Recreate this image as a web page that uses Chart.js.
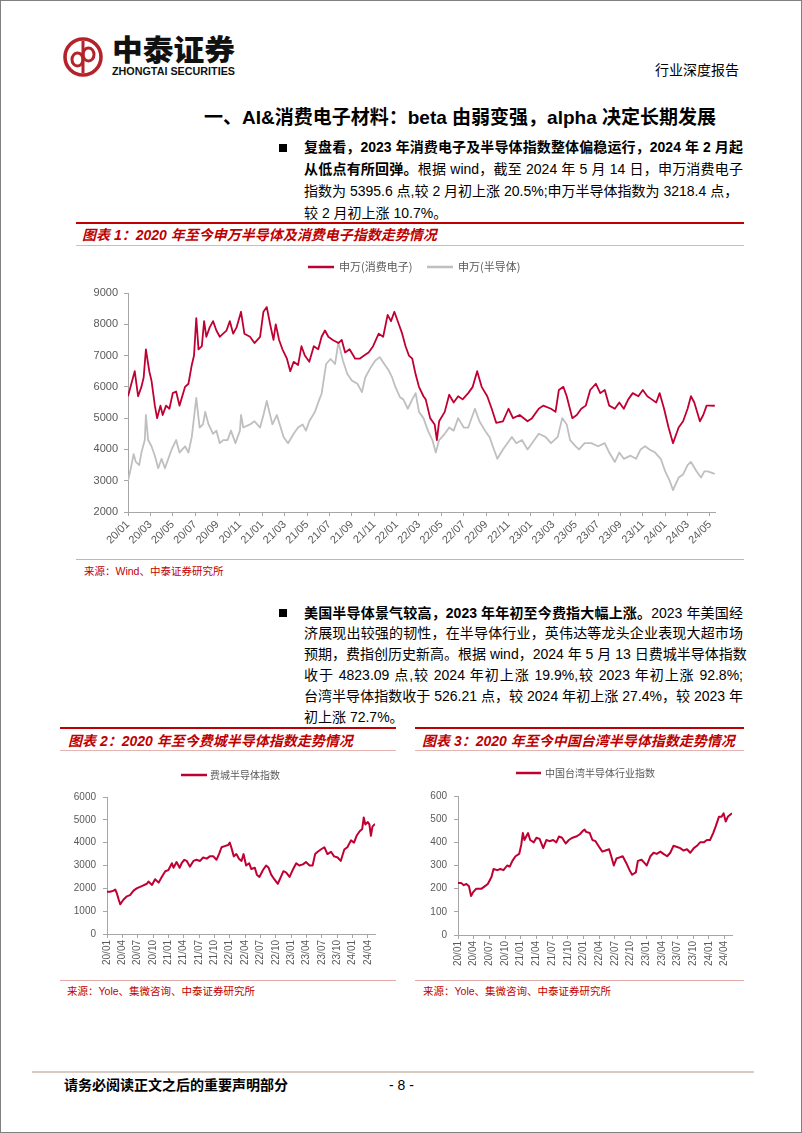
<!DOCTYPE html>
<html><head><meta charset="utf-8">
<script src="https://cdn.jsdelivr.net/npm/chart.js@4.4.1/dist/chart.umd.min.js"></script>
<style>
html,body{margin:0;padding:0;background:#fff;}
#page{position:relative;width:802px;height:1133px;overflow:hidden;font-family:"Liberation Sans","Noto Sans CJK SC",sans-serif;color:#000;}
#frame{position:absolute;left:0;top:0;width:802px;height:1133px;box-sizing:border-box;border:1px solid #808080;pointer-events:none;}
.abs{position:absolute;white-space:nowrap;}
.ln{position:absolute;left:304px;width:439px;font-size:14px;line-height:21px;height:21px;text-align:justify;text-align-last:justify;white-space:nowrap;}
.ln.last{text-align:left;text-align-last:left;}
.bul{position:absolute;left:279px;width:8px;height:8px;background:#000;}
.rule{position:absolute;}
.cap{position:absolute;white-space:nowrap;font-size:14px;line-height:20px;font-weight:bold;font-style:italic;color:#C00000;}
.src{position:absolute;white-space:nowrap;font-size:10.5px;line-height:14px;color:#C00000;}
canvas{position:absolute;}
</style></head>
<body><div id="page">
<svg class="abs" style="left:60px;top:34px" width="190" height="48" viewBox="0 0 190 48">
  <circle cx="23" cy="23" r="18" fill="none" stroke="#B5232A" stroke-width="3.6"/>
  <line x1="23" y1="7" x2="23" y2="39" stroke="#B5232A" stroke-width="3"/>
  <ellipse cx="17.5" cy="25.5" rx="5.5" ry="6.5" fill="none" stroke="#B5232A" stroke-width="3"/>
  <ellipse cx="28.5" cy="20.5" rx="5.5" ry="6.5" fill="none" stroke="#B5232A" stroke-width="3"/>
  <text x="52" y="27" font-family="Noto Sans CJK SC" font-weight="900" font-size="29" fill="#111" textLength="123" lengthAdjust="spacingAndGlyphs">中泰证券</text>
  <text x="52" y="41" font-family="Liberation Sans" font-weight="bold" font-size="10" fill="#111" textLength="123" lengthAdjust="spacingAndGlyphs">ZHONGTAI SECURITIES</text>
</svg>
<div class="abs" style="left:655px;top:60px;font-size:14px;line-height:20px;">行业深度报告</div>
<div class="abs" style="left:204px;top:104px;font-size:19px;line-height:27px;font-weight:bold;">一、AI&amp;消费电子材料：beta 由弱变强，alpha 决定长期发展</div>

<div class="bul" style="top:144px"></div>
<div class="ln" style="top:137px;font-weight:bold;">复盘看，2023 年消费电子及半导体指数整体偏稳运行，2024 年 2 月起</div>
<div class="ln" style="top:159px;"><b>从低点有所回弹。</b>根据 wind，截至 2024 年 5 月 14 日，申万消费电子</div>
<div class="ln" style="top:181px;width:431px;">指数为 5395.6 点,较 2 月初上涨 20.5%;申万半导体指数为 3218.4 点，</div>
<div class="ln last" style="top:203px;">较 2 月初上涨 10.7%。</div>

<div class="rule" style="left:76px;top:222px;width:668px;height:2px;background:#C00000"></div>
<div class="cap" style="left:82px;top:225px;">图表 1：2020 年至今申万半导体及消费电子指数走势情况</div>
<div class="rule" style="left:76px;top:245px;width:668px;height:1px;background:#E6B3B3"></div>
<canvas id="c1" width="690" height="310" style="left:60px;top:250px"></canvas>
<div class="rule" style="left:76px;top:559px;width:668px;height:1px;background:#E3A9A9"></div>
<div class="src" style="left:84px;top:564px;">来源：Wind、中泰证券研究所</div>

<div class="bul" style="top:609px"></div>
<div class="ln" style="top:602.5px;"><b>美国半导体景气较高，2023 年年初至今费指大幅上涨。</b>2023 年美国经</div>
<div class="ln" style="top:623.3px;">济展现出较强的韧性，在半导体行业，英伟达等龙头企业表现大超市场</div>
<div class="ln" style="top:644.1px;">预期，费指创历史新高。根据 wind，2024 年 5 月 13 日费城半导体指数</div>
<div class="ln" style="top:664.9px;">收于 4823.09 点,较 2024 年初上涨 19.9%,较 2023 年初上涨 92.8%;</div>
<div class="ln" style="top:685.7px;">台湾半导体指数收于 526.21 点，较 2024 年初上涨 27.4%，较 2023 年</div>
<div class="ln last" style="top:706.5px;">初上涨 72.7%。</div>

<div class="rule" style="left:60px;top:727px;width:336px;height:2px;background:#C00000"></div>
<div class="cap" style="left:68px;top:731px;">图表 2：2020 年至今费城半导体指数走势情况</div>
<div class="rule" style="left:60px;top:750px;width:336px;height:1px;background:#E6B3B3"></div>
<div class="rule" style="left:415px;top:727px;width:329px;height:2px;background:#C00000"></div>
<div class="cap" style="left:422px;top:731px;">图表 3：2020 年至今中国台湾半导体指数走势情况</div>
<div class="rule" style="left:415px;top:750px;width:329px;height:1px;background:#E6B3B3"></div>
<canvas id="c2" width="340" height="215" style="left:60px;top:755px"></canvas>
<canvas id="c3" width="340" height="215" style="left:410px;top:755px"></canvas>
<div class="rule" style="left:60px;top:980px;width:336px;height:1px;background:#E3A9A9"></div>
<div class="src" style="left:67px;top:984px;">来源：Yole、集微咨询、中泰证券研究所</div>
<div class="rule" style="left:415px;top:980px;width:329px;height:1px;background:#E3A9A9"></div>
<div class="src" style="left:423px;top:984px;">来源：Yole、集微咨询、中泰证券研究所</div>

<div class="rule" style="left:32px;top:1071px;width:722px;height:2px;background:#D8CCC2"></div>
<div class="abs" style="left:64px;top:1075px;font-size:14px;line-height:20px;font-weight:bold;">请务必阅读正文之后的重要声明部分</div>
<div class="abs" style="left:389px;top:1075px;font-size:14px;line-height:20px;">- 8 -</div>
<div id="frame"></div>
</div>
<script>
// ---------- DATA ----------
// x positions are months since 2020/01 (0 = Jan 2020)
const c1TickLabels = ['20/01','20/03','20/05','20/07','20/09','20/11','21/01','21/03','21/05','21/07','21/09','21/11','22/01','22/03','22/05','22/07','22/09','22/11','23/01','23/03','23/05','23/07','23/09','23/11','24/01','24/03','24/05'];
const c23TickLabels = ['20/01','20/04','20/07','20/10','21/01','21/04','21/07','21/10','22/01','22/04','22/07','22/10','23/01','23/04','23/07','23/10','24/01','24/04'];

const consumerName = '申万(消费电子)';
const consumerMonth = [0,0.3,0.6,0.9,1.2,1.4,1.6,1.9,2.1,2.4,2.6,2.9,3.1,3.4,3.7,4.0,4.3,4.6,5.1,5.4,5.7,5.9,6.1,6.3,6.6,6.8,7.0,7.3,7.6,7.9,8.2,8.5,8.8,9.1,9.4,9.7,10.1,10.4,10.9,11.3,11.8,12.1,12.4,12.7,13.0,13.2,13.5,13.8,14.2,14.5,14.8,15.2,15.5,15.8,16.2,16.6,17.0,17.3,17.6,17.9,18.3,18.8,19.1,19.4,19.8,20.3,20.7,21.1,21.5,21.9,22.4,22.8,23.2,23.5,23.8,24.2,24.5,24.8,25.1,25.4,25.7,26.0,26.4,26.6,27.0,27.4,27.6,27.8,28.3,28.7,29.1,29.5,29.9,30.4,30.8,31.2,31.6,32.1,32.5,32.9,33.5,34.0,34.4,35.0,35.7,36.1,36.7,37.1,37.8,38.2,38.5,38.9,39.2,39.7,40.1,40.5,40.9,41.3,41.8,42.2,42.6,43.0,43.5,43.9,44.3,44.7,45.1,45.6,46.0,46.4,46.8,47.2,47.5,47.9,48.3,48.7,49.2,49.6,50.0,50.3,50.6,51.1,51.4,51.7,52.0,52.43];
const consumerValue = [5700,6100,6500,5700,6000,6300,7200,6500,6200,5400,5000,5400,5100,5400,5300,5800,5850,5400,6000,6100,6700,7000,8200,7200,7300,8100,7600,7900,8100,7800,7600,7700,7800,8100,7700,7900,8400,7700,7600,7400,7600,8400,8550,8000,7500,8000,7500,7200,6900,6500,6800,6700,7300,7000,6800,7300,7200,7600,7800,7600,7500,7400,7500,7100,7200,6900,6900,7000,7100,7300,7700,7600,8300,8100,8400,8000,7700,7300,7000,6900,6400,6000,5700,5600,5000,4800,4300,4900,5200,5750,5500,5700,5600,5800,6000,6500,6000,5700,5300,4850,4900,5300,5000,5100,4900,5000,5300,5400,5300,5200,5900,6000,5700,5000,5100,5300,5400,5900,6100,5800,5900,5400,5300,5500,5300,5600,5800,5700,5900,5700,5600,5500,5800,5300,4700,4200,4700,4900,5300,5700,5500,4900,5100,5400,5400,5396];

const semiName = '申万(半导体)';
const semiMonth = [0,0.2,0.5,0.7,1.0,1.2,1.5,1.6,1.8,2.1,2.4,2.7,3.0,3.3,3.6,3.9,4.3,4.6,5.1,5.4,5.7,6.1,6.4,6.7,6.9,7.2,7.6,7.9,8.2,8.5,8.9,9.2,9.6,10.0,10.1,10.3,10.9,11.3,11.8,12.1,12.4,12.9,13.3,13.9,14.3,14.8,15.2,15.6,15.9,16.2,16.7,17.1,17.3,17.7,18.1,18.5,18.8,19.2,19.6,20.0,20.5,20.9,21.2,21.7,22.1,22.5,22.9,23.3,23.6,23.9,24.3,24.6,25.0,25.4,25.7,26.0,26.4,26.8,27.2,27.5,27.8,28.3,28.7,29.1,29.5,30.0,30.4,31.0,31.4,31.9,32.3,32.7,33.0,33.5,33.9,34.3,34.7,35.2,35.7,36.1,36.7,37.3,37.8,38.4,38.8,39.2,39.5,40.0,40.3,40.8,41.4,42.0,42.6,43.0,43.5,43.9,44.3,44.9,45.4,45.8,46.2,46.6,47.1,47.6,48.0,48.4,48.7,49.2,49.6,50.0,50.3,50.8,51.2,51.5,51.8,52.43];
const semiValue = [3000,3300,3850,3600,3500,3900,4300,5100,4300,4100,3800,3400,3700,3400,3700,4000,4300,3900,4100,3900,4400,5650,4700,4800,5200,4800,4500,4600,4200,4300,4300,4600,4200,4600,5100,4700,4800,4900,4700,5100,5550,4800,5100,4400,4200,4500,4700,4800,4600,4900,5200,5600,5780,6730,6890,6730,7430,6840,6410,6200,6100,5830,6300,6630,6840,6950,6730,6520,6300,5990,5670,5600,5300,5600,5800,5200,5000,4600,4300,3900,4300,4500,4700,4600,5000,4700,4700,5300,4900,4600,4400,4000,3700,4000,4200,4400,4200,4300,4000,4200,4500,4400,4200,4400,5000,4800,4300,4100,4000,4200,4200,4100,4200,3900,3600,3900,3700,3800,3700,4000,4100,4000,3900,3700,3300,3000,2700,3100,3200,3500,3600,3300,3100,3300,3300,3218];

const soxName = '费城半导体指数';
const soxMonth = [0,0.6,1.3,1.6,1.9,2.3,2.6,3.2,3.9,4.5,5.2,5.8,6.8,7.8,8.1,8.8,9.4,10.1,10.7,11.4,12.0,12.7,13.0,13.6,14.2,14.6,15.1,15.6,16.2,16.9,17.5,18.2,18.8,19.5,20.1,20.8,21.4,21.9,22.4,23.0,23.7,24.0,24.3,24.8,25.3,25.8,26.3,26.7,27.2,27.8,28.2,28.9,29.3,29.8,30.5,31.1,31.6,32.1,32.7,33.4,34.0,34.5,35.0,35.7,36.3,37.0,37.6,38.3,38.9,39.6,40.2,40.7,41.2,41.8,42.5,43.1,43.8,44.4,45.1,45.7,46.4,47.0,47.7,48.3,48.8,49.4,49.9,50.2,50.5,51.0,51.3,51.6,51.9,52.4];
const soxValue = [1850,1850,1900,1950,1800,1500,1300,1500,1650,1700,1900,2000,2100,2200,2300,2150,2400,2250,2500,2750,2800,3100,2900,3150,2900,3100,3250,3200,2950,3200,3250,3200,3350,3300,3400,3400,3250,3500,3800,3850,3900,4000,3800,3400,3500,3300,3200,3500,3000,3100,2850,2900,2600,2500,2800,3000,2900,2600,2400,2200,2500,2750,2700,2500,2800,3100,3000,3050,3150,3000,3000,3500,3600,3700,3800,3500,3600,3400,3350,3200,3700,3800,4100,4000,4300,4500,4600,5100,4800,4900,4800,4300,4700,4823];

const twName = '中国台湾半导体行业指数';
const twMonth = [0,0.6,1.1,1.6,2.1,2.5,2.9,3.5,4.5,5.1,5.7,6.4,6.8,7.5,8.1,8.7,9.4,9.9,10.4,11.0,11.7,12.1,12.4,12.7,13.4,13.8,14.5,15.0,15.6,16.3,16.9,17.5,18.2,18.8,19.3,19.9,20.6,21.2,21.9,22.6,23.3,23.9,24.2,24.5,25.2,25.7,26.3,27.0,27.6,28.2,28.9,29.3,29.8,30.3,30.9,31.5,32.2,32.8,33.3,34.0,34.4,35.1,35.7,36.1,36.8,37.4,38.0,38.7,39.3,40.0,40.6,41.2,41.9,42.5,43.1,43.8,44.4,45.1,45.7,46.3,47.0,47.6,48.2,48.8,49.3,49.9,50.4,50.8,51.2,51.6,52.4];
const twValue = [225,225,215,220,210,168,185,200,200,210,220,250,285,280,285,280,300,295,320,340,350,390,440,410,440,410,400,420,415,375,410,405,410,400,425,420,395,410,420,425,435,450,455,445,440,410,405,380,360,365,370,340,300,330,335,340,310,280,260,270,320,325,310,300,340,355,350,360,350,340,355,385,380,375,365,370,355,375,385,400,400,410,410,440,470,510,510,525,490,510,526];

// ---------- HELPERS ----------
const RED = '#C00033', GRAY = '#BFBFBF', AXIS = '#A6A6A6', TXT = '#595959';
const monthOf = l => (parseInt(l.slice(0,2)) - 20) * 12 + (parseInt(l.slice(3,5)) - 1);
const pts = (xs, ys) => xs.map((x, i) => ({x: x, y: ys[i]}));

const manualLegend = {
  id: 'manualLegend',
  afterDraw(chart, args, o) {
    const ctx = chart.ctx;
    ctx.save();
    chart.data.datasets.forEach((ds, i) => {
      const x = o.xs[i];
      ctx.strokeStyle = ds.borderColor; ctx.lineWidth = o.lineWidth;
      ctx.beginPath(); ctx.moveTo(x, o.y); ctx.lineTo(x + o.lineLen, o.y); ctx.stroke();
      ctx.fillStyle = TXT; ctx.font = o.font; ctx.textBaseline = 'middle'; ctx.textAlign = 'left';
      ctx.fillText(ds.label, x + o.lineLen + o.gap, o.y);
    });
    ctx.restore();
  }
};

function makeChart(id, datasets, cfg) {
  const tickMonths = cfg.tickLabels.map(monthOf);
  const labelMap = {};
  cfg.tickLabels.forEach(l => { labelMap[monthOf(l)] = l; });
  const gridOpt = {display: true, drawOnChartArea: false, drawTicks: true, tickLength: 4, color: AXIS};
  return new Chart(document.getElementById(id), {
    type: 'line',
    data: {datasets: datasets},
    plugins: [manualLegend],
    options: {
      responsive: false, animation: false, events: [],
      layout: {padding: {top: cfg.padTop, right: cfg.padRight, left: 0, bottom: 0}},
      elements: {point: {radius: 0}, line: {tension: 0, borderJoinStyle: 'round'}},
      plugins: {legend: {display: false}, tooltip: {enabled: false}, manualLegend: cfg.legend},
      scales: {
        x: {
          type: 'linear', min: 0, max: cfg.xMax,
          afterBuildTicks: s => { s.ticks = tickMonths.map(v => ({value: v})); },
          afterFit: s => { s.height = cfg.xHeight; },
          grid: gridOpt, border: {display: true, color: AXIS, width: 1},
          ticks: {autoSkip: false, minRotation: cfg.rot, maxRotation: cfg.rot, padding: 2, color: TXT,
                  font: {family: 'Liberation Sans', size: cfg.fontSize}, callback: v => labelMap[v] || ''}
        },
        y: {
          min: cfg.yMin, max: cfg.yMax,
          afterFit: s => { s.width = cfg.yWidth; },
          grid: gridOpt, border: {display: true, color: AXIS, width: 1},
          ticks: {stepSize: cfg.yStep, padding: cfg.yPad, color: TXT,
                  font: {family: 'Liberation Sans', size: cfg.fontSize}, callback: v => String(v)}
        }
      }
    }
  });
}

makeChart('c1', [
  {label: consumerName, data: pts(consumerMonth, consumerValue), borderColor: RED, borderWidth: 1.8},
  {label: semiName, data: pts(semiMonth, semiValue), borderColor: GRAY, borderWidth: 1.8}
], {tickLabels: c1TickLabels, xMax: 52.45, rot: 45, fontSize: 11, yMin: 2000, yMax: 9000, yStep: 1000,
    yWidth: 68, yPad: 6, xHeight: 48, padTop: 43, padRight: 35,
    legend: {xs: [248, 367], y: 17, lineLen: 26, gap: 5, lineWidth: 2.5, font: '11px "Noto Sans CJK SC"'}});

makeChart('c2', [
  {label: soxName, data: pts(soxMonth, soxValue), borderColor: RED, borderWidth: 2}
], {tickLabels: c23TickLabels, xMax: 52.4, rot: 90, fontSize: 10, yMin: 0, yMax: 6000, yStep: 1000,
    yWidth: 47, yPad: 7, xHeight: 36, padTop: 42, padRight: 25,
    legend: {xs: [121], y: 20, lineLen: 26, gap: 3, lineWidth: 2.5, font: '10px "Noto Sans CJK SC"'}});

makeChart('c3', [
  {label: twName, data: pts(twMonth, twValue), borderColor: RED, borderWidth: 2}
], {tickLabels: c23TickLabels, xMax: 52.4, rot: 90, fontSize: 10, yMin: 0, yMax: 600, yStep: 100,
    yWidth: 48, yPad: 7, xHeight: 35, padTop: 41, padRight: 18,
    legend: {xs: [106], y: 18, lineLen: 25, gap: 4, lineWidth: 2.5, font: '10px "Noto Sans CJK SC"'}});
</script>
</body></html>
